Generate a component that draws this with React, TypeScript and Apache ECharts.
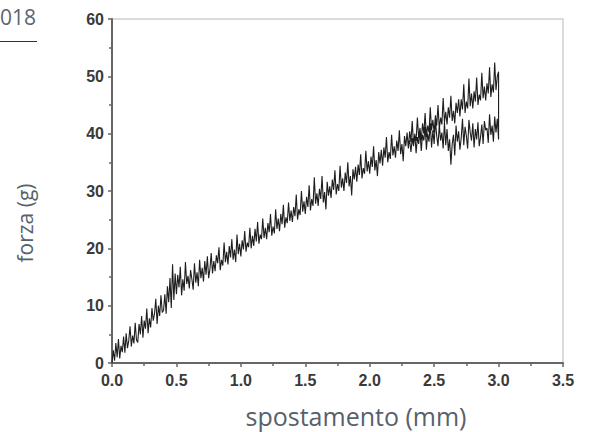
import React, { useEffect, useRef } from "react";
import * as echarts from "echarts";

// loading branch: displacement (mm)
const loadX: number[] = [
  0.0, 0.01, 0.02, 0.03, 0.04, 0.05, 0.06, 0.07, 0.08, 0.09,
  0.1, 0.11, 0.12, 0.13, 0.14, 0.15, 0.16, 0.17, 0.18, 0.19,
  0.2, 0.21, 0.22, 0.23, 0.24, 0.25, 0.26, 0.27, 0.28, 0.29,
  0.3, 0.31, 0.32, 0.33, 0.34, 0.35, 0.36, 0.37, 0.38, 0.39,
  0.4, 0.41, 0.42, 0.43, 0.44, 0.45, 0.46, 0.47, 0.48, 0.49,
  0.5, 0.51, 0.52, 0.53, 0.54, 0.55, 0.56, 0.57, 0.58, 0.59,
  0.6, 0.61, 0.62, 0.63, 0.64, 0.65, 0.66, 0.67, 0.68, 0.69,
  0.7, 0.71, 0.72, 0.73, 0.74, 0.75, 0.76, 0.77, 0.78, 0.79,
  0.8, 0.81, 0.82, 0.83, 0.84, 0.85, 0.86, 0.87, 0.88, 0.89,
  0.9, 0.91, 0.92, 0.93, 0.94, 0.95, 0.96, 0.97, 0.98, 0.99,
  1.0, 1.01, 1.02, 1.03, 1.04, 1.05, 1.06, 1.07, 1.08, 1.09,
  1.1, 1.11, 1.12, 1.13, 1.14, 1.15, 1.16, 1.17, 1.18, 1.19,
  1.2, 1.21, 1.22, 1.23, 1.24, 1.25, 1.26, 1.27, 1.28, 1.29,
  1.3, 1.31, 1.32, 1.33, 1.34, 1.35, 1.36, 1.37, 1.38, 1.39,
  1.4, 1.41, 1.42, 1.43, 1.44, 1.45, 1.46, 1.47, 1.48, 1.49,
  1.5, 1.51, 1.52, 1.53, 1.54, 1.55, 1.56, 1.57, 1.58, 1.59,
  1.6, 1.61, 1.62, 1.63, 1.64, 1.65, 1.66, 1.67, 1.68, 1.69,
  1.7, 1.71, 1.72, 1.73, 1.74, 1.75, 1.76, 1.77, 1.78, 1.79,
  1.8, 1.81, 1.82, 1.83, 1.84, 1.85, 1.86, 1.87, 1.88, 1.89,
  1.9, 1.91, 1.92, 1.93, 1.94, 1.95, 1.96, 1.97, 1.98, 1.99,
  2.0, 2.01, 2.02, 2.03, 2.04, 2.05, 2.06, 2.07, 2.08, 2.09,
  2.1, 2.11, 2.12, 2.13, 2.14, 2.15, 2.16, 2.17, 2.18, 2.19,
  2.2, 2.21, 2.22, 2.23, 2.24, 2.25, 2.26, 2.27, 2.28, 2.29,
  2.3, 2.31, 2.32, 2.33, 2.34, 2.35, 2.36, 2.37, 2.38, 2.39,
  2.4, 2.41, 2.42, 2.43, 2.44, 2.45, 2.46, 2.47, 2.48, 2.49,
  2.5, 2.51, 2.52, 2.53, 2.54, 2.55, 2.56, 2.57, 2.58, 2.59,
  2.6, 2.61, 2.62, 2.63, 2.64, 2.65, 2.66, 2.67, 2.68, 2.69,
  2.7, 2.71, 2.72, 2.73, 2.74, 2.75, 2.76, 2.77, 2.78, 2.79,
  2.8, 2.81, 2.82, 2.83, 2.84, 2.85, 2.86, 2.87, 2.88, 2.89,
  2.9, 2.91, 2.92, 2.93, 2.94, 2.95, 2.96, 2.97, 2.98, 2.99,
  3.0,
];
// loading branch: force (g)
const loadY: number[] = [
  0.0, 2.2, 0.4, 3.5, 1.0, 4.2, 0.8, 3.0, 1.9, 4.6,
  1.8, 5.2, 2.6, 3.9, 6.4, 2.9, 4.8, 3.4, 7.0, 4.0,
  3.6, 6.8, 5.0, 8.2, 4.4, 7.4, 6.0, 9.5, 5.2, 7.8,
  6.2, 9.6, 7.4, 8.6, 11.2, 6.8, 10.0, 8.2, 11.8, 8.8,
  9.2, 12.0, 8.6, 13.4, 10.6, 14.8, 9.6, 17.2, 11.0, 15.6,
  12.0, 15.4, 13.2, 16.8, 11.8, 14.6, 12.6, 17.6, 13.8, 15.2,
  13.0, 16.2, 14.6, 12.8, 17.4, 14.0, 15.8, 13.4, 18.0, 14.8,
  16.6, 14.2, 17.8, 15.4, 18.6, 14.8, 16.4, 19.2, 15.6, 17.8,
  16.0, 18.8, 17.4, 20.2, 16.2, 18.0, 17.0, 21.0, 17.6, 19.4,
  17.2, 20.4, 18.4, 21.6, 18.0, 19.8, 17.6, 22.4, 19.0, 20.8,
  18.6, 21.4, 19.8, 23.0, 19.4, 21.0, 20.2, 23.6, 20.0, 22.2,
  20.4, 23.4, 21.2, 24.6, 20.8, 22.4, 21.6, 25.2, 21.8, 23.6,
  21.6, 24.4, 22.8, 26.0, 22.2, 23.8, 22.6, 26.8, 23.4, 25.2,
  23.0, 26.0, 24.2, 27.6, 23.6, 25.4, 24.4, 28.0, 24.8, 26.6,
  24.6, 27.2, 25.6, 29.4, 25.0, 26.8, 25.8, 30.0, 26.4, 28.2,
  26.0, 29.0, 27.2, 31.0, 26.6, 28.6, 27.4, 32.4, 27.8, 29.6,
  27.4, 30.4, 28.6, 32.6, 28.0, 29.8, 26.8, 31.6, 29.2, 30.8,
  28.8, 32.0, 30.2, 33.6, 29.4, 31.2, 30.0, 34.4, 30.6, 32.2,
  30.0, 33.2, 31.4, 35.0, 30.8, 32.6, 29.2, 33.8, 32.0, 34.2,
  31.6, 34.6, 32.8, 36.4, 32.2, 34.0, 33.0, 37.0, 33.4, 35.2,
  33.0, 36.0, 34.2, 37.8, 33.6, 35.4, 32.6, 36.8, 34.8, 37.2,
  34.4, 37.6, 35.8, 39.4, 35.0, 36.8, 35.6, 39.8, 36.2, 37.8,
  35.8, 38.8, 37.0, 40.6, 36.4, 38.2, 35.2, 39.6, 37.8, 40.2,
  37.4, 40.4, 38.6, 42.2, 38.0, 39.8, 38.8, 42.8, 39.2, 41.0,
  38.8, 41.8, 40.0, 43.6, 39.4, 41.4, 40.2, 44.6, 40.6, 42.4,
  40.2, 43.2, 41.4, 45.0, 40.8, 42.8, 41.6, 46.2, 42.0, 43.8,
  41.6, 44.6, 42.8, 46.6, 42.2, 44.0, 41.8, 45.4, 43.6, 46.0,
  43.0, 46.0, 44.2, 48.6, 43.6, 45.6, 44.4, 49.6, 44.8, 47.0,
  44.4, 47.4, 45.6, 49.8, 45.0, 46.8, 45.8, 50.6, 46.2, 48.2,
  45.8, 48.8, 47.0, 51.6, 46.4, 48.6, 47.2, 52.4, 47.6, 50.0,
  50.8,
];
// return branch after the drop at 3.0 mm: displacement (mm)
const backX: number[] = [
  3.0, 2.99, 2.98, 2.97, 2.96, 2.95, 2.94, 2.93, 2.92, 2.91,
  2.9, 2.89, 2.88, 2.87, 2.86, 2.85, 2.84, 2.83, 2.82, 2.81,
  2.8, 2.79, 2.78, 2.77, 2.76, 2.75, 2.74, 2.73, 2.72, 2.71,
  2.7, 2.69, 2.68, 2.67, 2.66, 2.65, 2.64, 2.63, 2.62, 2.61,
  2.6, 2.59, 2.58, 2.57, 2.56, 2.55, 2.54, 2.53, 2.52, 2.51,
  2.5, 2.49, 2.48, 2.47, 2.46, 2.45, 2.44, 2.43, 2.42, 2.41,
  2.4, 2.39, 2.38, 2.37, 2.36, 2.35, 2.34, 2.33, 2.32, 2.31,
  2.3,
];
// return branch: force (g)
const backY: number[] = [
  39.0, 42.6, 40.2, 43.0, 38.6, 41.4, 39.8, 43.4, 38.4, 41.0,
  40.6, 42.2, 38.2, 41.6, 39.4, 37.8, 42.0, 39.0, 40.8, 37.6,
  41.8, 38.8, 40.2, 42.4, 37.4, 39.6, 41.2, 38.0, 42.6, 39.2,
  37.2, 40.4, 38.6, 41.4, 36.2, 39.8, 38.2, 34.6, 39.0, 37.0,
  40.8, 38.0, 42.0, 37.4, 40.2, 38.8, 41.6, 37.8, 39.6, 42.4,
  38.2, 40.6, 37.6, 41.8, 38.6, 40.0, 37.2, 41.2, 38.8, 39.8,
  37.0, 40.4, 38.2, 39.4, 36.6, 40.0, 37.8, 39.2, 36.8, 38.8,
  38.0,
];

const xTitle = "spostamento (mm)";
const yTitle = "forza (g)";
const cornerText = "018";

export default function App() {
  const ref = useRef<HTMLDivElement>(null);
  useEffect(() => {
    if (!ref.current) return;
    const chart = echarts.init(ref.current, null, { renderer: "svg" });
    const pts: number[][] = [];
    loadX.forEach((x, i) => pts.push([x, loadY[i]]));
    backX.forEach((x, i) => pts.push([x, backY[i]]));
    const labelStyle = {
      color: "#3a3a3a",
      fontFamily: "'Liberation Sans', Arial, sans-serif",
      fontWeight: "bold" as const,
      fontSize: 16,
    };
    chart.setOption({
      animation: false,
      backgroundColor: "#fff",
      grid: {
        left: 112,
        right: 27,
        top: 19,
        bottom: 69,
        show: true,
        borderColor: "#d0d0d0",
        borderWidth: 1.5,
      },
      xAxis: {
        type: "value",
        min: 0,
        max: 3.5,
        interval: 0.5,
        axisLine: { show: true, onZero: false, lineStyle: { color: "#666", width: 2 } },
        axisTick: { show: true, length: 4, lineStyle: { color: "#666", width: 1.5 } },
        minorTick: { show: true, splitNumber: 2, length: 3, lineStyle: { color: "#666", width: 1.5 } },
        splitLine: { show: false },
        axisLabel: { ...labelStyle, margin: 9, formatter: (v: number) => v.toFixed(1) },
      },
      yAxis: {
        type: "value",
        min: 0,
        max: 60,
        interval: 10,
        axisLine: { show: true, onZero: false, lineStyle: { color: "#666", width: 2 } },
        axisTick: { show: true, length: 4, lineStyle: { color: "#666", width: 1.5 } },
        minorTick: { show: true, splitNumber: 2, length: 3, lineStyle: { color: "#666", width: 1.5 } },
        splitLine: { show: false },
        axisLabel: { ...labelStyle, margin: 8 },
      },
      series: [
        {
          type: "line",
          data: pts,
          showSymbol: false,
          symbol: "none",
          lineStyle: { color: "#1e1e1e", width: 1.1 },
        },
      ],
      graphic: [
        {
          type: "text",
          x: 0,
          y: 17,
          style: {
            text: cornerText,
            fill: "#5b6670",
            font: "21px 'Open Sans', sans-serif",
            textAlign: "left",
            textVerticalAlign: "middle",
          },
        },
        {
          type: "line",
          shape: { x1: 0, y1: 41.5, x2: 37, y2: 41.5 },
          style: { stroke: "#333", lineWidth: 1.2 },
        },
        {
          type: "text",
          x: 25,
          y: 223,
          rotation: Math.PI / 2,
          style: {
            text: yTitle,
            fill: "#56616b",
            font: "21px 'Open Sans', sans-serif",
            textAlign: "center",
            textVerticalAlign: "middle",
          },
        },
        {
          type: "text",
          x: 356,
          y: 416,
          style: {
            text: xTitle,
            fill: "#56616b",
            font: "25px 'Open Sans', sans-serif",
            textAlign: "center",
            textVerticalAlign: "middle",
          },
        },
      ],
    });
    return () => chart.dispose();
  }, []);
  return (
    <div
      ref={ref}
      style={{ position: "fixed", left: 0, top: 0, width: 590, height: 432 }}
    />
  );
}
